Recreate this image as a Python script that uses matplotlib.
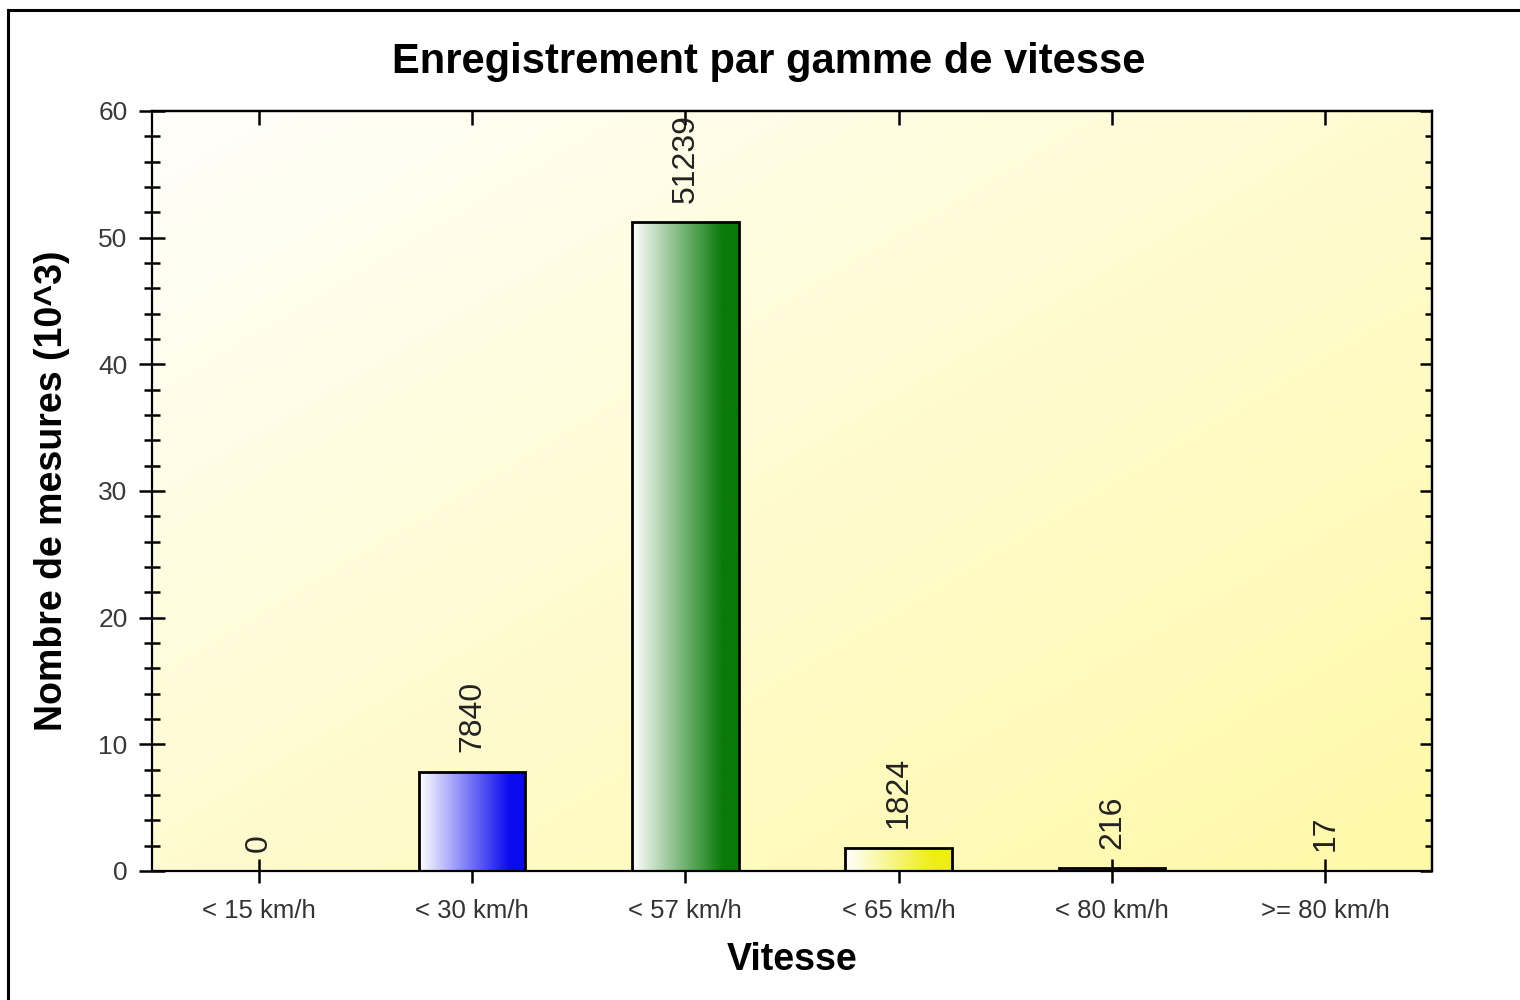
import numpy as np
import matplotlib
matplotlib.use('Agg')
import matplotlib.pyplot as plt
from matplotlib.colors import LinearSegmentedColormap
from matplotlib.ticker import MultipleLocator
from matplotlib.lines import Line2D

plt.rcParams['font.family'] = ['Liberation Sans', 'DejaVu Sans']

# data (counts, axis shown in thousands)
categories = ['< 15 km/h', '< 30 km/h', '< 57 km/h', '< 65 km/h', '< 80 km/h', '>= 80 km/h']
counts = [0, 7840, 51239, 1824, 216, 17]
bar_colors = ['#cc2020', '#0a0aee', '#0a7a0a', '#eeee10', '#cc2020', '#cc2020']

fig = plt.figure(figsize=(15.2, 10), dpi=100)
ax = fig.add_axes([152/1520, 1-871/1000, 1280/1520, 760/1000])

# frame around the figure (top and left lines only)
fig.add_artist(Line2D([8/1520, 8/1520], [0, 1-10/1000], color='black', lw=2.2, transform=fig.transFigure))
fig.add_artist(Line2D([8/1520, 1], [1-10/1000, 1-10/1000], color='black', lw=2.2, transform=fig.transFigure))

# plot background gradient: white top-left to yellow bottom-right
n = 200
gx, gy = np.meshgrid(np.linspace(0, 1, n), np.linspace(0, 1, n))
t = (gx + gy) / 2
bg_cmap = LinearSegmentedColormap.from_list('bg', ['#fffffb', '#fffbd0', '#fff9a8'])
ax.imshow(t, cmap=bg_cmap, extent=[0, 1, 0, 1], transform=ax.transAxes,
          aspect='auto', origin='upper', zorder=0, vmin=0, vmax=1)

x = np.arange(len(categories))
vals = np.array(counts) / 1000.0
width = 0.5
grad = np.linspace(0, 1, 100).reshape(1, -1)
bars = ax.bar(x, vals, width=width, facecolor='none', edgecolor='black', linewidth=2, zorder=3)
for b, c, v in zip(bars, bar_colors, vals):
    cmap = LinearSegmentedColormap.from_list('g', [(0, '#ffffff'), (0.85, c), (1, c)])
    if v > 0:
        im = ax.imshow(grad, cmap=cmap, extent=[b.get_x(), b.get_x() + width, 0, v],
                       aspect='auto', zorder=2)
        im.set_clip_path(b)

for xi, v, c in zip(x, vals, counts):
    ax.annotate(str(c), (xi, v), xytext=(0, 14), textcoords='offset points',
                rotation=90, ha='center', va='bottom', fontsize=23, color='#222222', zorder=5)

ax.set_xlim(-0.5, 5.5)
ax.set_ylim(0, 60)
ax.set_xticks(x)
ax.set_xticklabels(categories)
ax.yaxis.set_major_locator(MultipleLocator(10))
ax.yaxis.set_minor_locator(MultipleLocator(2))

for s in ax.spines.values():
    s.set_linewidth(1.6)
    s.set_zorder(6)

ax.tick_params(axis='x', which='major', direction='inout', length=17, width=1.8,
               labelsize=18.5, labelcolor='#333333', pad=12)
ax.tick_params(axis='y', which='major', direction='inout', length=19, width=1.8,
               labelsize=19, labelcolor='#3a3a3a', pad=8)
ax.tick_params(axis='y', which='minor', direction='inout', length=11, width=1.8)

top = ax.secondary_xaxis('top')
top.set_xticks(x)
top.tick_params(direction='in', length=10, width=1.8, labeltop=False)
top.spines['top'].set_linewidth(1.6)
right = ax.secondary_yaxis('right')
right.yaxis.set_major_locator(MultipleLocator(10))
right.yaxis.set_minor_locator(MultipleLocator(2))
right.tick_params(which='major', direction='in', length=9, width=1.8, labelright=False)
right.tick_params(which='minor', direction='in', length=5, width=1.8)
right.spines['right'].set_linewidth(1.6)

fig.text(769/1520, 1-62/1000, 'Enregistrement par gamme de vitesse', ha='center', va='center',
         fontsize=30, fontweight='bold')
fig.text(792/1520, 1-960/1000, 'Vitesse', ha='center', va='center', fontsize=27, fontweight='bold')
fig.text(52/1520, 1-491/1000, 'Nombre de mesures (10^3)', ha='center', va='center',
         rotation=90, fontsize=27, fontweight='bold')

fig.savefig('out.png', dpi=100, facecolor='white')
